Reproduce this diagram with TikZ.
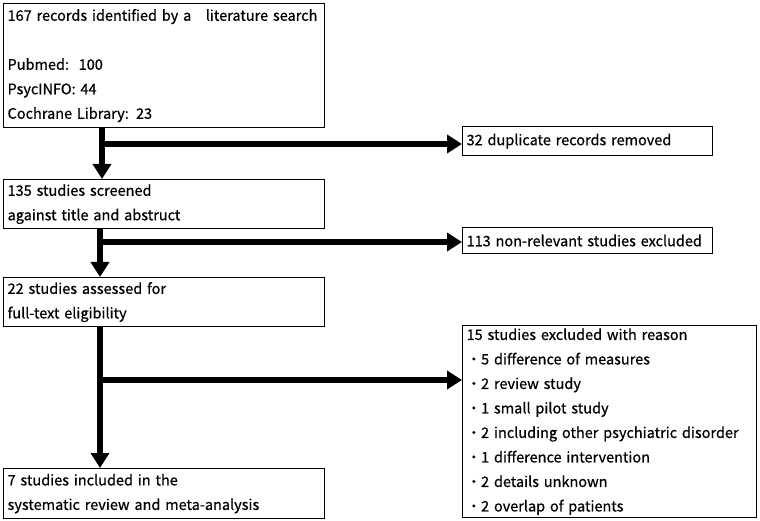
\documentclass[tikz,border=0pt]{standalone}
\usepackage{fontspec}
\setmainfont{Noto Sans CJK JP}
\newfontfamily\boxfont{Noto Sans CJK JP}[FakeBold=0.6]
\usetikzlibrary{arrows.meta}
\tikzset{
  box/.style={draw, line width=1.2pt, anchor=north west, inner xsep=4pt, inner ysep=0pt,
    align=left, font=\boxfont\fontsize{14.5pt}{24.5pt}\selectfont},
  flow/.style={line width=6pt, -{Triangle[length=15pt,width=18pt]}}
}
\begin{document}
\begin{tikzpicture}[x=1pt, y=-1pt]
    \useasboundingbox (0,0) rectangle (760,521);
    % Left column of boxes
    \node[box, text width=313pt, minimum height=124pt] (search) at (3,3)
      {167 records identified by a\quad literature search\\[24.5pt]Pubmed:~~100\\PsycINFO: 44\\Cochrane Library: 23};
    \node[box, text width=313pt, minimum height=49pt] (screen) at (3,179)
      {135 studies screened\\against title and abstruct};
    \node[box, text width=313pt, minimum height=49pt] (assess) at (3,277)
      {22 studies assessed for\\full-text eligibility};
    \node[box, text width=313pt, minimum height=50pt] (incl) at (3,468)
      {7 studies included in the\\systematic review and meta-analysis};
    
    % Right column of boxes
    \node[box, text width=242pt, minimum height=29pt] (dup) at (462,126)
      {32 duplicate records removed};
    \node[box, text width=242pt, minimum height=26pt] (nonrel) at (462,227)
      {113 non-relevant studies excluded};
    \node[box, text width=286pt, minimum height=192pt] (excl) at (462,325)
      {15 studies excluded with reason\\・5 difference of measures\\・2 review study\\・1 small pilot study\\%
       ・2 including other psychiatric disorder\\・1 difference intervention\\・2 details unknown\\・2 overlap of patients};
    
    % Junctions on the main line
    \coordinate (j1) at (102,144); \coordinate (j2) at (100,242);
    \coordinate (j3) at (100,380);
    
    \draw[flow] (search.south -| j1) -- (screen.north -| j1); % down to screening
    \draw[flow] (screen.south -| j2) -- (assess.north -| j2); % down to eligibility
    \draw[flow] (assess.south -| j3) -- (incl.north -| j3); % down to included
    
    \draw[flow] (j1) -- (j1 -| dup.west);
    \draw[flow] (j2) -- (j2 -| nonrel.west);
    \draw[flow] (j3) -- (j3 -| excl.west);
\end{tikzpicture}
\end{document}
